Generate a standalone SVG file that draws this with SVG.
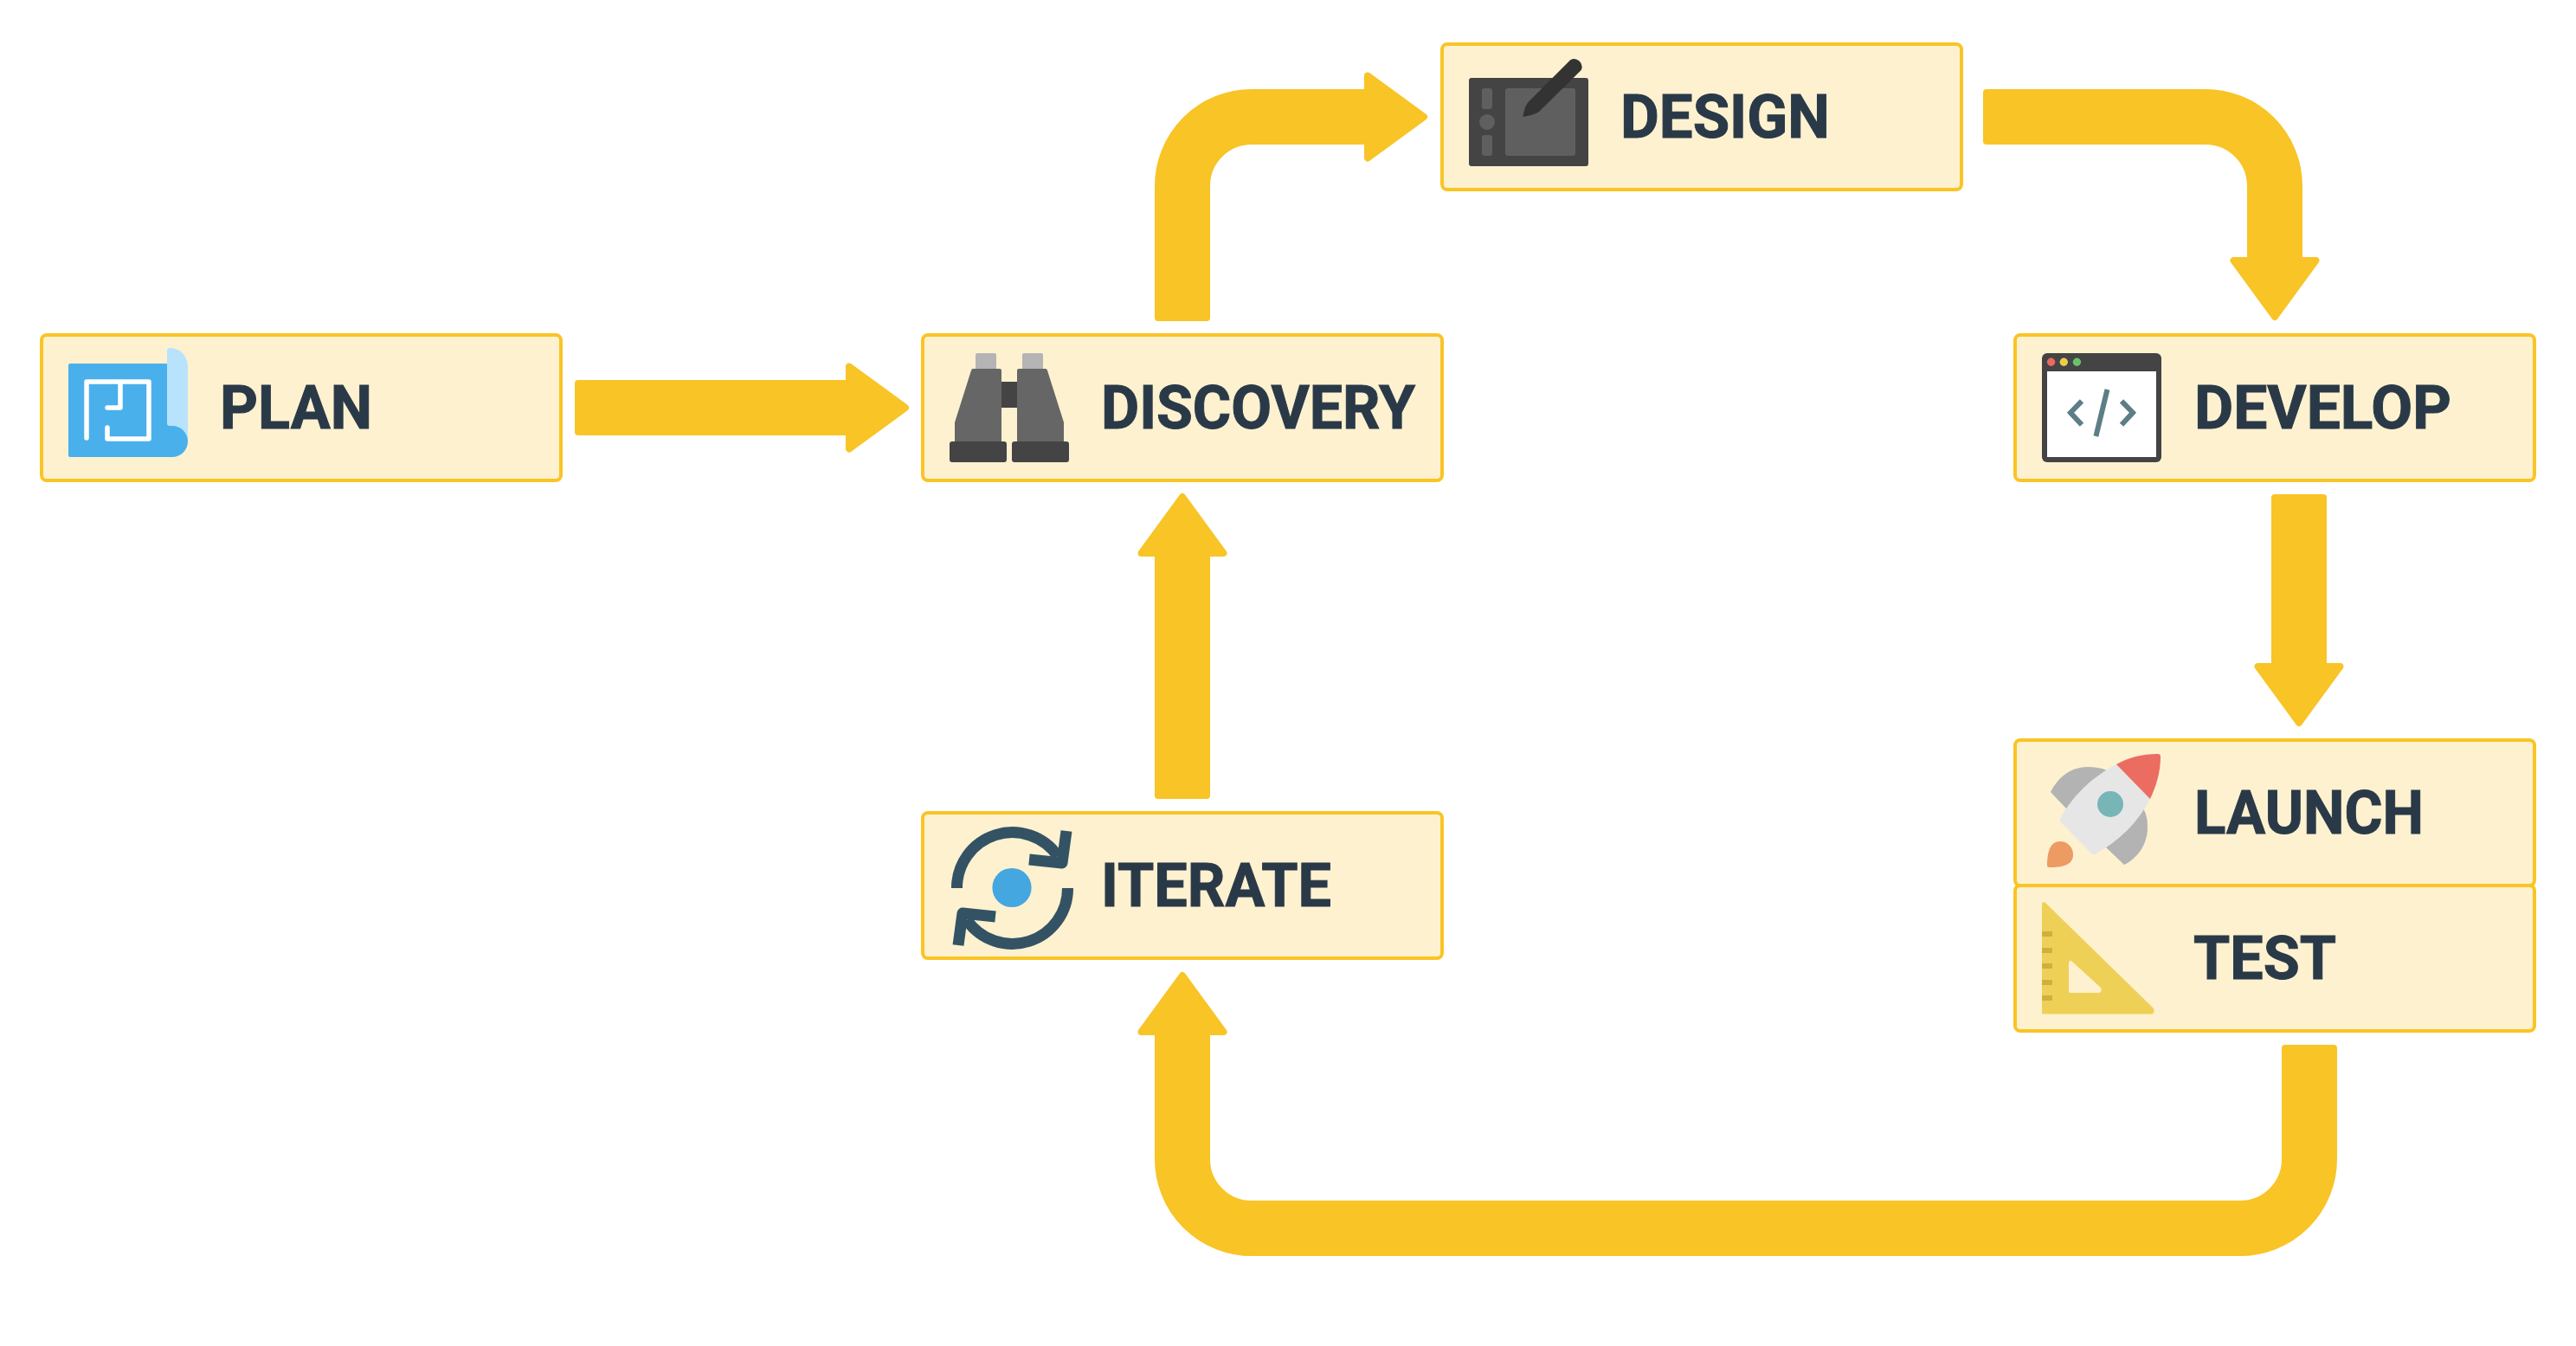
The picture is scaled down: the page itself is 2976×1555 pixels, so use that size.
<svg xmlns="http://www.w3.org/2000/svg" width="2976" height="1555" viewBox="0 0 2976 1555">
<style>
.box{fill:#fdf1d0;stroke:#f9c425;stroke-width:4}
.label{font-family:"Roboto","Liberation Sans",sans-serif;font-weight:700;font-size:70px;fill:#2a3947;stroke:#2a3947;stroke-width:1}
.conn{fill:none;stroke:#f8c426;stroke-width:64;marker-start:url(#tail);marker-end:url(#head)}
.mk{fill:#f8c426}
.mks{fill:#f8c426;stroke:#f8c426;stroke-width:8;stroke-linejoin:round}
.gray{fill:#666}
.dark{fill:#444}
.scr{fill:#5f5f5f}
.fin{fill:#b3b3b3}
.tick{fill:#cdb03f}
.it{fill:none;stroke:#335364;stroke-width:13}
.code{fill:none;stroke:#5d7d87;stroke-width:6}
</style>
<defs>
<marker id="head" markerUnits="userSpaceOnUse" orient="auto" overflow="visible" refX="0" refY="0" markerWidth="80" markerHeight="110"><polygon class="mks" points="4,-47.500 69,0 4,47.500"/></marker>
<marker id="tail" markerUnits="userSpaceOnUse" orient="auto" overflow="visible" refX="0" refY="0" markerWidth="12" markerHeight="64"><rect class="mk" x="-6" y="-32" width="12" height="64" rx="4"/></marker>
</defs>
<rect width="2976" height="1555" fill="#fff"/>
<g id="connectors">
<path class="conn" d="M670 471H977"/>
<path class="conn" d="M1366 365V215A80 80 0 0 1 1446 135H1576"/>
<path class="conn" d="M2297 135H2548A80 80 0 0 1 2628 215V297"/>
<path class="conn" d="M2656 577V766"/>
<path class="conn" d="M2668 1213V1339A80 80 0 0 1 2588 1419H1446A80 80 0 0 1 1366 1339V1196"/>
<path class="conn" d="M1366 917V643"/>
</g>
<g id="plan">
<rect class="box" x="48" y="387" width="600" height="168" rx="6"/>
<path fill="#b8e3fc" d="M193 405Q193 402 196 402C208 402 217 411 217 425V510H193Z"/>
<path fill="#4ab0eb" d="M81 420H193V489Q193 492 196 492H199C209 492 217 500 217 510S209 528 199 528H81Q79 528 79 526V422Q79 420 81 420Z"/>
<path fill="none" stroke="#fff" stroke-width="5.5" stroke-linecap="round" stroke-linejoin="round" d="M100 506V441H172V507H124V494M139 441V471H124"/>
<text class="label" x="254" y="495" textLength="176" lengthAdjust="spacingAndGlyphs">PLAN</text>
</g>
<g id="discovery">
<rect class="box" x="1066" y="387" width="600" height="168" rx="6"/>
<rect x="1127" y="408" width="24" height="22" rx="2" fill="#b4b4b4"/>
<rect x="1181" y="408" width="24" height="22" rx="2" fill="#b4b4b4"/>
<rect class="dark" x="1157" y="441" width="18" height="30"/>
<path class="gray" d="M1124 426H1155Q1157 426 1157 428V512H1103V488L1122 428Q1122.500 426 1124 426Z"/>
<path class="gray" d="M1177 426H1208Q1209.500 426 1210 428L1229 488V512H1175V428Q1175 426 1177 426Z"/>
<rect class="dark" x="1097" y="510" width="66" height="24" rx="3"/>
<rect class="dark" x="1169" y="510" width="66" height="24" rx="3"/>
<text class="label" x="1272" y="495" textLength="363" lengthAdjust="spacingAndGlyphs">DISCOVERY</text>
</g>
<g id="design">
<rect class="box" x="1666" y="51" width="600" height="168" rx="6"/>
<rect class="dark" x="1697" y="90" width="138" height="102" rx="3"/>
<rect class="scr" x="1739" y="102" width="81" height="78" rx="3"/>
<rect class="scr" x="1712" y="102" width="12" height="24" rx="3"/>
<rect class="scr" x="1712" y="156" width="12" height="24" rx="3"/>
<circle class="scr" cx="1718" cy="141" r="9"/>
<path fill="#333" d="M1759.400 135C1760 130 1762 122 1765.500 118L1814 69.500A9 9 0 0 1 1826.700 81L1778.600 128.500C1775 132 1765 134 1759.400 135Z"/>
<text class="label" x="1872" y="159" textLength="242" lengthAdjust="spacingAndGlyphs">DESIGN</text>
</g>
<g id="develop">
<rect class="box" x="2328" y="387" width="600" height="168" rx="6"/>
<rect class="dark" x="2359" y="408" width="138" height="126" rx="6"/>
<rect x="2365" y="429" width="126" height="99" fill="#fff"/>
<circle cx="2369.600" cy="418.300" r="4.700" fill="#ec6a5e"/>
<circle cx="2384.300" cy="418.300" r="4.700" fill="#edcb4c"/>
<circle cx="2399.400" cy="418.300" r="4.700" fill="#6bc16a"/>
<path class="code" d="M2405 463.300L2392 476.700L2405 490.700M2451 463.300L2464 476.700L2451 490.700M2434.500 450L2421.400 504"/>
<text class="label" x="2535" y="495" textLength="297" lengthAdjust="spacingAndGlyphs">DEVELOP</text>
</g>
<g id="launch">
<rect class="box" x="2328" y="855" width="600" height="168" rx="6"/>
<path class="fin" d="M2369 915C2378 897 2393 886 2412 886C2420 886 2427 887 2434 890L2388 935Z"/>
<path class="fin" d="M2476 934C2480 941 2481 948 2481 956C2481 975 2470 991 2454 999L2432 978Z"/>
<path fill="#e6e6e6" d="M2445 883L2484 923C2470 950 2448 972 2420 987Q2417 988 2415 985L2381 950Q2379 948 2380 946C2393 922 2413 900 2445 883Z"/>
<path fill="#eb6c60" d="M2445 883C2459 875 2475 871 2493 871Q2496 871 2496 874C2496 892 2491 908 2484 923Z"/>
<circle cx="2438" cy="929" r="15" fill="#78b5b6"/>
<path fill="#ed9b62" d="M2367 1002Q2365 1002 2365 1000C2365 988 2367 972 2380 972A15 15 0 0 1 2395 987C2395 1000 2382 1002 2367 1002Z"/>
<text class="label" x="2535" y="963" textLength="265" lengthAdjust="spacingAndGlyphs">LAUNCH</text>
</g>
<g id="test">
<rect class="box" x="2328" y="1023" width="600" height="168" rx="6"/>
<path fill="#efd057" d="M2359 1044Q2360 1041 2363 1043L2488 1165Q2490 1170 2486 1171.500H2361Q2359 1171.500 2359 1170Z"/>
<path fill="#fdf1d0" d="M2390 1112Q2392 1108 2394 1111L2427 1141Q2429 1146 2425 1147H2392Q2390 1147 2390 1145Z"/>
<rect class="tick" x="2359" y="1076" width="12" height="6"/>
<rect class="tick" x="2359" y="1095" width="12" height="6"/>
<rect class="tick" x="2359" y="1113" width="12" height="6"/>
<rect class="tick" x="2359" y="1132" width="12" height="6"/>
<rect class="tick" x="2359" y="1150" width="12" height="6"/>
<text class="label" x="2534" y="1131" textLength="165" lengthAdjust="spacingAndGlyphs">TEST</text>
</g>
<g id="iterate">
<rect class="box" x="1066" y="939" width="600" height="168" rx="6"/>
<path class="it" d="M1105.500 1026A64 64 0 0 1 1222 989"/>
<path class="it" d="M1232 960L1227 997L1189 993" stroke-linejoin="round"/>
<path class="it" d="M1233.500 1026A64 64 0 0 1 1117 1063"/>
<path class="it" d="M1107 1092L1112 1055L1150 1059" stroke-linejoin="round"/>
<circle cx="1169" cy="1025.500" r="22.600" fill="#45a7e0"/>
<text class="label" x="1272" y="1047" textLength="266" lengthAdjust="spacingAndGlyphs">ITERATE</text>
</g>
</svg>
